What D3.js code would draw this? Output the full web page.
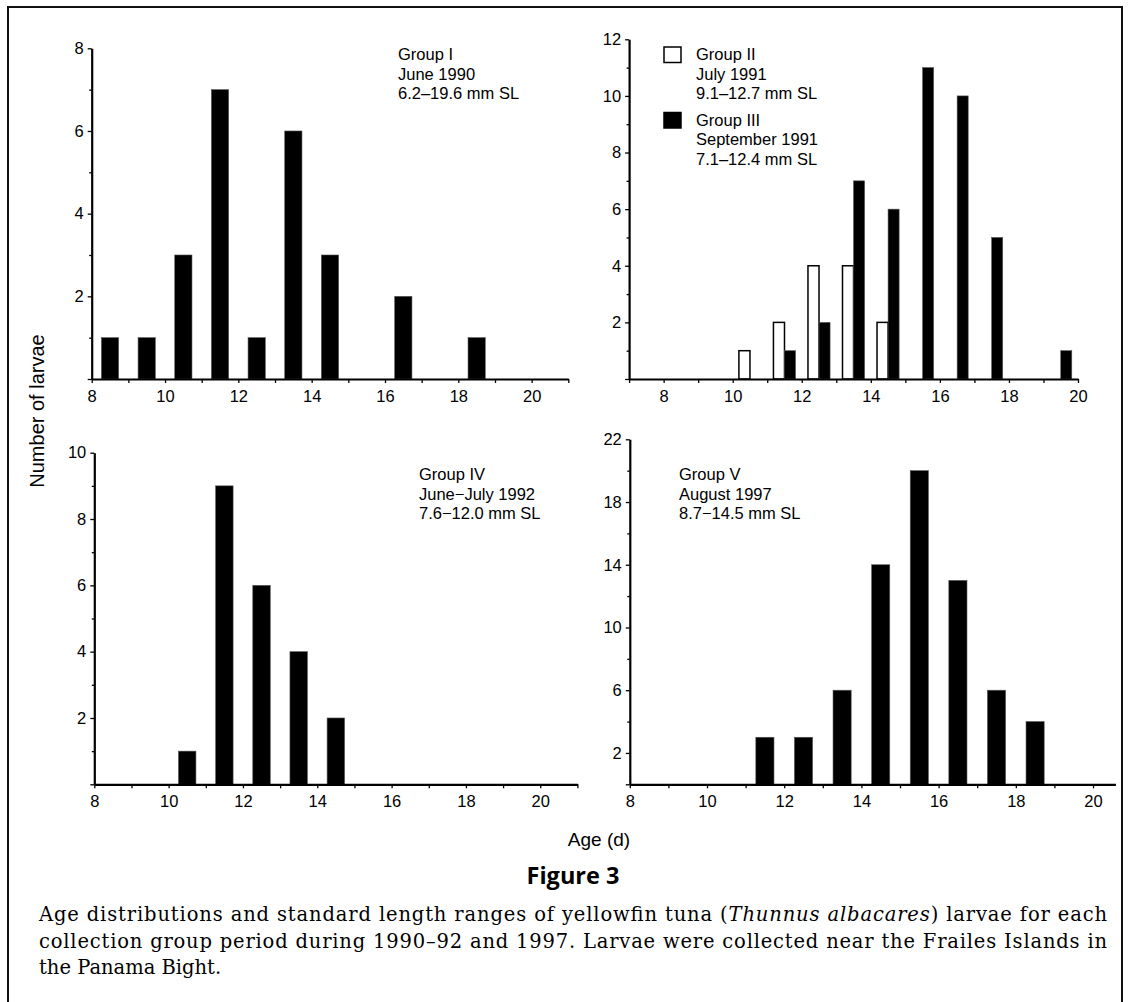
<!DOCTYPE html>
<html>
<head>
<meta charset="utf-8">
<script src="https://cdn.jsdelivr.net/npm/d3@7"></script>
<style>
  body { margin: 0; background: #fff; }
  svg { display: block; }
  .axis text { font-family: "Liberation Sans", Arial, sans-serif; font-size: 16.5px; fill: #000; }
  .axis path, .axis line { stroke: #000; }
  .note { font-family: "Liberation Sans", Arial, sans-serif; font-size: 16.5px; fill: #000; }
</style>
</head>
<body>
<div id="chart"></div>
<script>
// age (d) bins, left edge of each day, and number of larvae in each
const groupIAges = [8, 9, 10, 11, 12, 13, 14, 16, 18];
const groupICounts = [1, 1, 3, 7, 1, 6, 3, 2, 1];
const groupIIAges = [10, 11, 12, 13, 14];
const groupIICounts = [1, 2, 4, 4, 2];
const groupIIIAges = [11, 12, 13, 14, 15, 16, 17, 19];
const groupIIICounts = [1, 2, 7, 6, 11, 10, 5, 1];
const groupIVAges = [10, 11, 12, 13, 14];
const groupIVCounts = [1, 9, 6, 4, 2];
const groupVAges = [11, 12, 13, 14, 15, 16, 17, 18];
const groupVCounts = [3, 3, 6, 14, 20, 13, 6, 4];

// tick labels
const xLabels = [8, 10, 12, 14, 16, 18, 20];
const yLabelsI = [2, 4, 6, 8];
const yLabelsII = [2, 4, 6, 8, 10, 12];
const yLabelsIV = [2, 4, 6, 8, 10];
const yLabelsV = [2, 6, 10, 14, 18, 22];

// panel notes
const notesI = ["Group I", "June 1990", "6.2–19.6 mm SL"];
const notesII = ["Group II", "July 1991", "9.1–12.7 mm SL"];
const notesIII = ["Group III", "September 1991", "7.1–12.4 mm SL"];
const notesIV = ["Group IV", "June−July 1992", "7.6−12.0 mm SL"];
const notesV = ["Group V", "August 1997", "8.7−14.5 mm SL"];

const svg = d3.select("#chart")
  .append("svg")
  .attr("width", 1130)
  .attr("height", 1002);

// page frame (bottom edge runs off the picture)
svg.append("rect")
  .attr("x", 8).attr("y", 7)
  .attr("width", 1114).attr("height", 1020)
  .attr("fill", "none")
  .attr("stroke", "#111")
  .attr("stroke-width", 2);

function drawPanel(p) {
  const x = d3.scaleLinear().domain(p.xDomain).range(p.xRange);
  const y = d3.scaleLinear().domain(p.yDomain).range(p.yRange);
  const g = svg.append("g");

  p.series.forEach(s => {
    g.selectAll(null)
      .data(d3.zip(s.ages, s.counts))
      .join("rect")
      .attr("x", d => x(d[0] + s.offset))
      .attr("width", d => x(d[0] + s.offset + s.width) - x(d[0] + s.offset))
      .attr("y", d => y(d[1]))
      .attr("height", d => y(0) - y(d[1]))
      .attr("fill", s.fill)
      .attr("stroke", s.fill === "#fff" ? "#000" : "#555")
      .attr("stroke-width", s.fill === "#fff" ? 1.5 : 0.6);
  });

  // x axis: tick on every day, labels on even days
  const xTicks = d3.range(Math.ceil(p.xDomain[0]), Math.floor(p.xDomain[1]) + 1);
  g.append("g")
    .attr("class", "axis")
    .attr("transform", `translate(0,${y(0)})`)
    .call(d3.axisBottom(x)
      .tickValues(xTicks)
      .tickSizeInner(4)
      .tickSizeOuter(0)
      .tickPadding(7)
      .tickFormat(d => xLabels.includes(d) ? d : ""))
    .call(a => a.select(".domain").attr("stroke-width", 2.2))
    .call(a => a.selectAll(".tick line").attr("stroke-width", 1.3));

  // y axis: minor ticks are shorter and unlabelled
  g.append("g")
    .attr("class", "axis")
    .attr("transform", `translate(${x(p.xDomain[0])},0)`)
    .call(d3.axisLeft(y)
      .tickValues(d3.range(0, p.yDomain[1] + 1, p.yStep))
      .tickSizeInner(4)
      .tickSizeOuter(0)
      .tickPadding(4)
      .tickFormat(d => p.yLabels.includes(d) ? d : ""))
    .call(a => a.select(".domain").attr("stroke-width", 2.2))
    .call(a => a.selectAll(".tick line").attr("stroke-width", 1.3))
    .call(a => a.selectAll(".tick")
      .filter(d => d !== 0 && !p.yLabels.includes(d))
      .select("line").attr("x2", -2.5));

  p.notes.forEach(n => {
    g.selectAll(null)
      .data(n.lines)
      .join("text")
      .attr("class", "note")
      .attr("x", n.x)
      .attr("y", (d, i) => n.y + i * 19.5)
      .text(d => d);
    if (n.swatch) {
      g.append("rect")
        .attr("x", n.x - 32).attr("y", n.y - 13)
        .attr("width", 17).attr("height", 15.5)
        .attr("fill", n.swatch)
        .attr("stroke", "#000")
        .attr("stroke-width", 1.5);
    }
  });
}

drawPanel({
  xDomain: [8, 21], xRange: [91.7, 568.3],
  yDomain: [0, 8], yRange: [379, 48.3], yStep: 1, yLabels: yLabelsI,
  series: [{ ages: groupIAges, counts: groupICounts, offset: 0.265, width: 0.47, fill: "#000" }],
  notes: [{ x: 398, y: 60, lines: notesI }]
});

drawPanel({
  xDomain: [7, 20], xRange: [629.1, 1078],
  yDomain: [0, 12], yRange: [379, 39.3], yStep: 1, yLabels: yLabelsII,
  series: [
    { ages: groupIIAges, counts: groupIICounts, offset: 0.18, width: 0.32, fill: "#fff" },
    { ages: groupIIIAges, counts: groupIIICounts, offset: 0.5, width: 0.32, fill: "#000" }
  ],
  notes: [
    { x: 696, y: 60, lines: notesII, swatch: "#fff" },
    { x: 696, y: 125.5, lines: notesIII, swatch: "#000" }
  ]
});

drawPanel({
  xDomain: [8, 21], xRange: [94.3, 577.4],
  yDomain: [0, 10], yRange: [784.3, 452.7], yStep: 1, yLabels: yLabelsIV,
  series: [{ ages: groupIVAges, counts: groupIVCounts, offset: 0.265, width: 0.47, fill: "#000" }],
  notes: [{ x: 419, y: 480, lines: notesIV }]
});

drawPanel({
  xDomain: [8, 20.58], xRange: [629.8, 1115.4],
  yDomain: [0, 22], yRange: [784.3, 439.3], yStep: 2, yLabels: yLabelsV,
  series: [{ ages: groupVAges, counts: groupVCounts, offset: 0.265, width: 0.47, fill: "#000" }],
  notes: [{ x: 679, y: 480, lines: notesV }]
});

// shared axis titles
svg.append("text")
  .attr("transform", "translate(44,411) rotate(-90)")
  .attr("text-anchor", "middle")
  .style("font-family", "Liberation Sans, Arial, sans-serif")
  .style("font-size", "20px")
  .text("Number of larvae");

svg.append("text")
  .attr("x", 599).attr("y", 846)
  .attr("text-anchor", "middle")
  .style("font-family", "Liberation Sans, Arial, sans-serif")
  .style("font-size", "19px")
  .text("Age (d)");

// figure caption
svg.append("text")
  .attr("x", 573).attr("y", 884)
  .attr("text-anchor", "middle")
  .style("font-family", "Open Sans, Noto Sans, sans-serif")
  .style("font-weight", "bold")
  .style("font-size", "23.5px")
  .text("Figure 3");

const cap = svg.append("g")
  .style("font-family", "DejaVu Serif, serif")
  .style("font-size", "19.5px");

const line1 = cap.append("text")
  .attr("x", 39).attr("y", 921)
  .attr("textLength", 1068)
  .attr("lengthAdjust", "spacing");
line1.append("tspan").text("Age distributions and standard length ranges of yellowfin tuna (");
line1.append("tspan").style("font-style", "italic").text("Thunnus albacares");
line1.append("tspan").text(") larvae for each");

cap.append("text")
  .attr("x", 39).attr("y", 947.5)
  .attr("textLength", 1068)
  .attr("lengthAdjust", "spacing")
  .text("collection group period during 1990–92 and 1997. Larvae were collected near the Frailes Islands in");

cap.append("text")
  .attr("x", 39).attr("y", 974)
  .text("the Panama Bight.");
</script>
</body>
</html>
